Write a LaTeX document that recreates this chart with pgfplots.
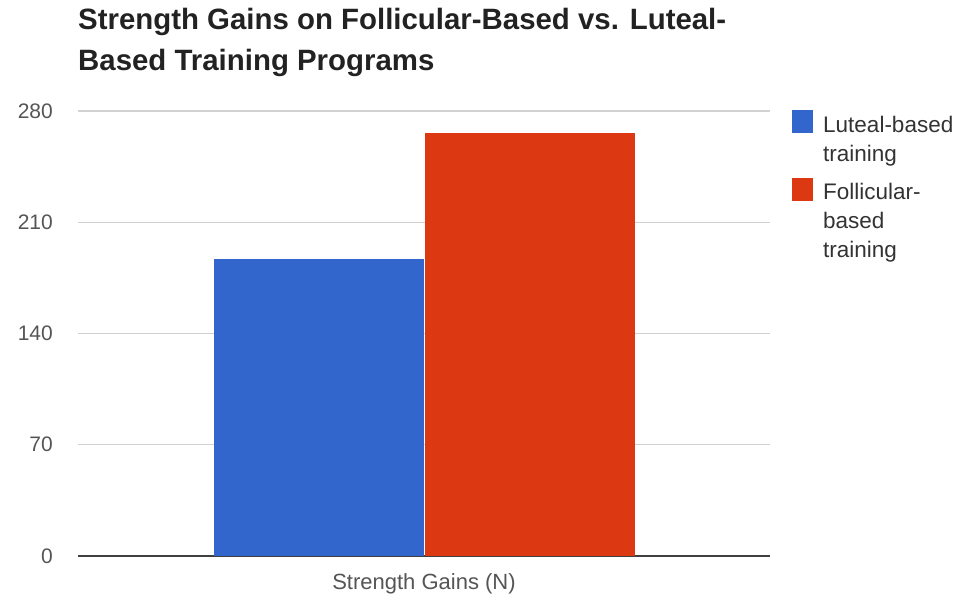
\documentclass[border=0pt]{standalone}
\usepackage{pgfplots}
\pgfplotsset{compat=1.18}
\usepackage{fontspec}
\setmainfont{Liberation Sans}
\definecolor{gblue}{HTML}{3366CC}
\definecolor{gred}{HTML}{DC3912}
\definecolor{titlec}{HTML}{222222}
\definecolor{tickc}{HTML}{555555}
\definecolor{legc}{HTML}{333333}
\begin{document}
\begin{tikzpicture}[x=1pt,y=1pt]
\path[use as bounding box] (0,0) rectangle (964,595);
\node[anchor=base west, inner sep=0, text=titlec, font=\fontsize{29.4}{34}\selectfont\bfseries] at (78,565) {Strength Gains on Follicular-Based vs. Luteal-};
\node[anchor=base west, inner sep=0, text=titlec, font=\fontsize{29.4}{34}\selectfont\bfseries] at (78,524) {Based Training Programs};
\begin{axis}[
  at={(78pt,39pt)}, anchor=south west,
  scale only axis, width=692pt, height=445pt,
  xmin=-1, xmax=1, ymin=0, ymax=280,
  ybar=1pt, bar width=210pt,
  xtick={0}, xticklabels={Strength Gains (N)},
  ytick={0,70,140,210,280},
  /pgf/number format/assume math mode=true,
  ymajorgrids, major grid style={draw=black!18, line width=1.2pt},
  major tick length=0pt,
  axis x line*=bottom, axis y line*=left,
  y axis line style={draw=none},
  x axis line style={-, draw=black!75, line width=1.6pt},
  tick label style={font=\fontsize{21}{25}\selectfont, text=tickc},
  yticklabel style={inner sep=0pt, xshift=-25pt},
  xticklabel style={inner sep=0pt, anchor=north, yshift=-17pt, font=\fontsize{22}{26}\selectfont},
  legend style={at={(axis description cs:1.0318,1.002)}, anchor=north west, draw=none, fill=none,
    inner sep=0pt, column sep=10pt, row sep=44pt, font=\fontsize{22.5}{29}\selectfont, text=legc,
    cells={anchor=base west}, nodes={inner sep=0pt}},
  legend image code/.code={\fill[#1] (0pt,-1pt) rectangle (21pt,22pt);},
]
\addplot[fill=gblue, draw=none] coordinates {(0,187)};
\addlegendentry{\vtop{\hbox{Luteal-based}\hbox{training}}}
\addplot[fill=gred, draw=none] coordinates {(0,266)};
\addlegendentry{\vtop{\hbox{Follicular-}\hbox{based}\hbox{training}}}
\end{axis}
\end{tikzpicture}
\end{document}
